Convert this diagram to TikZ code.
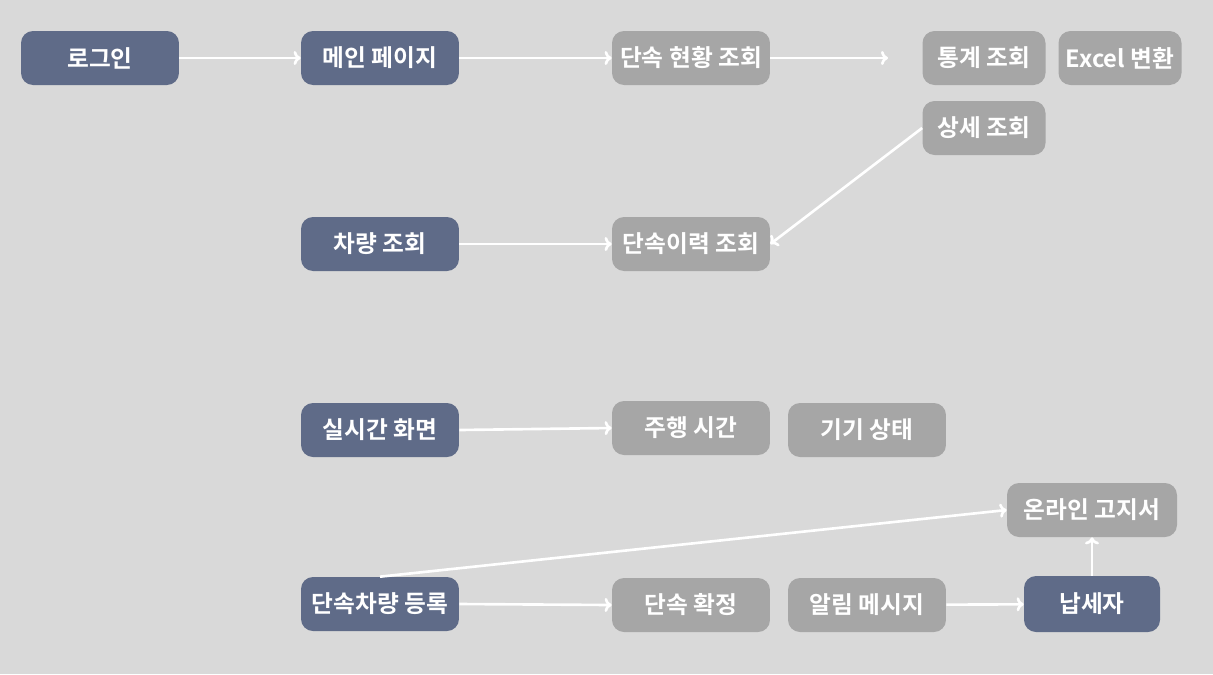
\documentclass[tikz,border=0pt]{standalone}
\usepackage{fontspec}
\setmainfont{Noto Sans CJK KR}[BoldFont={* Bold}]
\usetikzlibrary{arrows.meta}
\definecolor{bgcol}{HTML}{D9D9D9}
\definecolor{maincol}{HTML}{5F6B88}
\definecolor{subcol}{HTML}{A6A6A6}
\tikzset{
  box/.style={rounded corners=0.24cm, minimum height=1.08cm, inner sep=0pt, text=white, font=\bfseries\fontsize{13.5}{15}\selectfont},
  mainbox/.style={box, fill=maincol, minimum width=3.16cm},
  subbox/.style={box, fill=subcol, minimum width=3.16cm},
  link/.style={draw=white, line width=1.5pt, -{To[length=4pt,width=8pt,line width=1.5pt]}}
}
\begin{document}
\begin{tikzpicture}[x=0.02cm, y=-0.02cm]
			%%%%% START %%%%%
			
			\fill[bgcol] (0,0) rectangle (1213,674);
			\useasboundingbox (0,0) rectangle (1213,674);
			
			\node[mainbox] (login) at (100,58) {로그인};
			\node[mainbox] (mainpage) at (380,58) {메인 페이지};
			\node[subbox] (status) at (691,58) {단속 현황 조회};
			\coordinate (statusend) at (888,58);
			\node[subbox, minimum width=2.46cm] (stats) at (984,58) {통계 조회};
			\node[subbox, minimum width=2.46cm] (excel) at (1120,58) {Excel 변환};
			\node[subbox, minimum width=2.46cm] (detail) at (984,128) {상세 조회};
			
			\node[mainbox] (car) at (380,244) {차량 조회};
			\node[subbox] (history) at (691,244) {단속이력 조회};
			
			\node[mainbox] (live) at (380,430) {실시간 화면};
			\node[subbox] (drive) at (691,428) {주행 시간};
			\node[subbox] (device) at (867,430) {기기 상태};
			
			\node[mainbox] (register) at (380,604) {단속차량 등록};
			\node[subbox] (confirm) at (691,605) {단속 확정};
			\node[subbox] (alarm) at (867,605) {알림 메시지};
			\node[mainbox, minimum width=2.72cm, minimum height=1.12cm] (payer) at (1092,604) {납세자};
			\node[subbox, minimum width=3.4cm] (bill) at (1092,510) {온라인 고지서};
			
			\draw[link] (login) -- (mainpage);
			\draw[link] (mainpage) -- (status);
			\draw[link] (status) -- (statusend);
			\draw[link] (detail.west) -- (history.east);
			\draw[link] (car) -- (history);
			\draw[link] (live.east) -- (drive.west);
			\draw[link] (register.east) -- (confirm.west);
			\draw[link] (alarm) -- (payer);
			\draw[link] (payer) -- (bill);
			\draw[link] (register.north) -- (bill.west);
			
			%%%%% END %%%%%
\end{tikzpicture}
\end{document}
